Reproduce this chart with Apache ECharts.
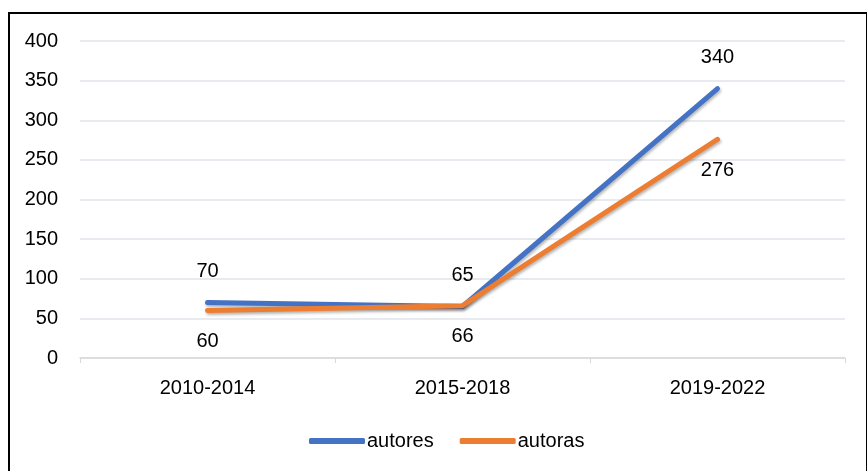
<!DOCTYPE html>
<html>
<head>
<meta charset="utf-8">
<script src="https://cdn.jsdelivr.net/npm/echarts@6/dist/echarts.min.js"></script>
<style>
  html, body { margin: 0; padding: 0; background: #fff; }
  #wrap { position: relative; width: 867px; height: 471px; overflow: hidden; }
  #main { position: absolute; left: 0; top: 0; width: 867px; height: 471px; }
  #frame { position: absolute; left: 8px; top: 12px; width: 856px; height: 470px; border: 2px solid #000; pointer-events: none; }
</style>
</head>
<body>
<div id="wrap">
  <div id="main"></div>
  <div id="frame"></div>
</div>
<script>
// periodos
const categories = ['2010-2014', '2015-2018', '2019-2022'];
// número de autores / autoras por periodo
const autores = [70, 65, 340];
const autoras = [60, 66, 276];

const FONT = '"Liberation Sans", Arial, sans-serif';
const BLUE = '#4472C4';
const ORANGE = '#ED7D31';

const chart = echarts.init(document.getElementById('main'));

function lineSeries(name, data, color, pos) {
  return {
    name: name,
    type: 'line',
    data: data,
    symbol: 'circle',
    symbolSize: 0.1,
    showSymbol: true,
    smooth: false,
    lineStyle: {
      color: color,
      width: 5,
      cap: 'round',
      join: 'round',
      shadowColor: 'rgba(0,0,0,0.3)',
      shadowBlur: 3,
      shadowOffsetX: 1,
      shadowOffsetY: 2
    },
    itemStyle: { color: color },
    label: {
      show: true,
      position: pos,
      distance: 21,
      color: '#000',
      fontFamily: FONT,
      fontSize: 20
    },
    emphasis: { disabled: true },
    animation: false
  };
}

chart.setOption({
  animation: false,
  grid: { left: 80, right: 22, top: 41, bottom: 113, containLabel: false },
  legend: {
    data: ['autores', 'autoras'],
    left: 304,
    top: 426,
    itemWidth: 56,
    itemHeight: 6,
    itemGap: 26,
    icon: 'roundRect',
    textStyle: { fontFamily: FONT, fontSize: 20, color: '#000', padding: [0, 0, 0, -3] }
  },
  xAxis: {
    type: 'category',
    data: categories,
    boundaryGap: true,
    axisLine: { show: true, lineStyle: { color: '#d9d9d9', width: 1.5 } },
    axisTick: { show: true, length: 5, lineStyle: { color: '#d9d9d9' } },
    axisLabel: { color: '#000', fontFamily: FONT, fontSize: 20, margin: 20 }
  },
  yAxis: {
    type: 'value',
    min: 0,
    max: 400,
    interval: 50,
    axisLine: { show: false },
    axisTick: { show: false },
    splitLine: { lineStyle: { color: '#dfe3e8', width: 1.5 } },
    axisLabel: { color: '#000', fontFamily: FONT, fontSize: 20, margin: 22 }
  },
  series: [
    lineSeries('autores', autores, BLUE, 'top'),
    lineSeries('autoras', autoras, ORANGE, 'bottom')
  ]
});
</script>
</body>
</html>
